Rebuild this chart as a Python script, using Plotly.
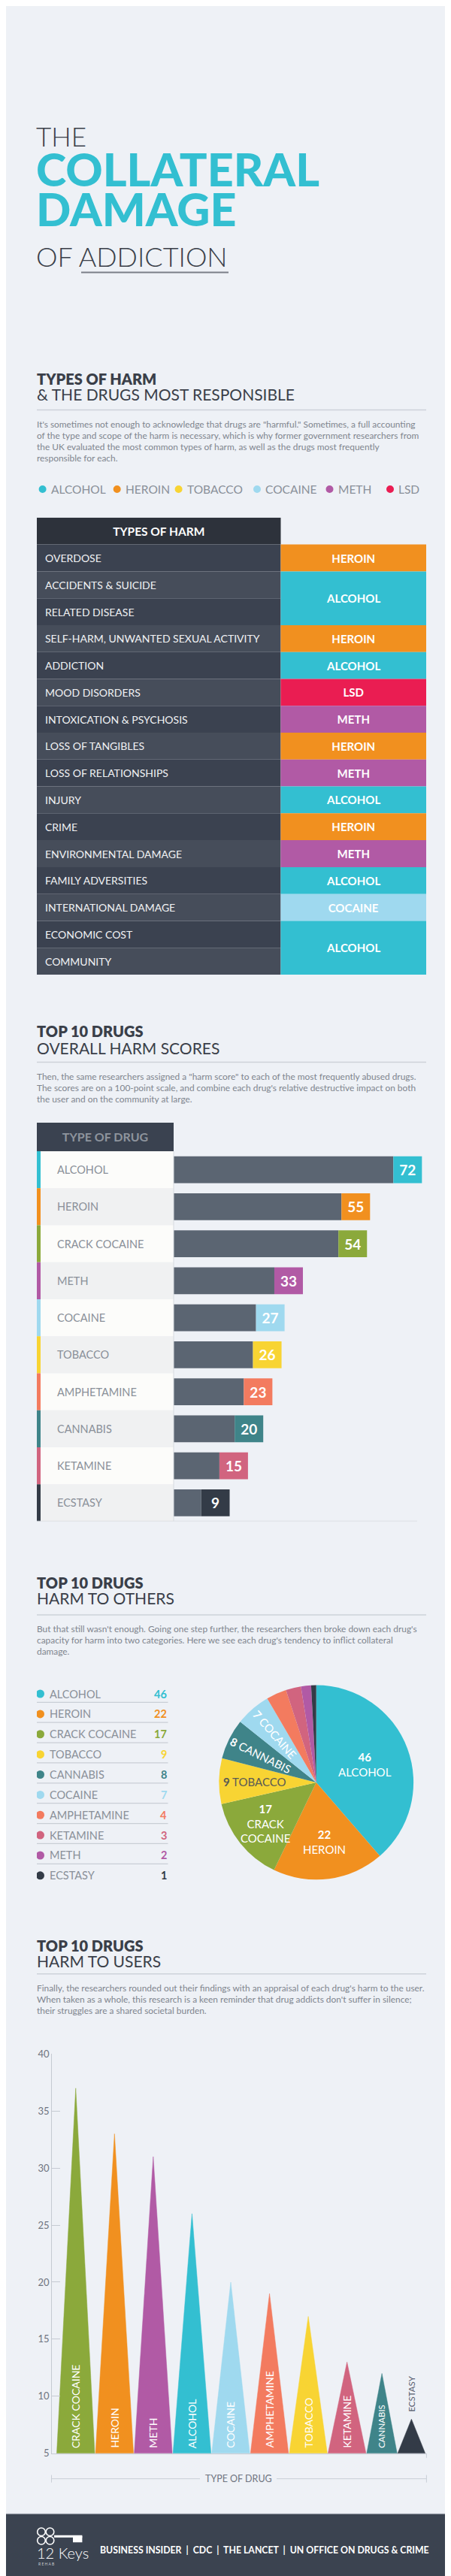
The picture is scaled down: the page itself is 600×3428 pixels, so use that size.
import math
import plotly.graph_objects as go

W, H = 600, 3428
BG = "#EEF1F6"
DARK = "#3A3F49"
TEAL = "#33BFD1"
PARA = "#7F858E"
LABEL = "#8A9099"
RULE = "#CDD2D9"
FONT = "Lato"

# ---------------- data ----------------
legend_drugs = ["ALCOHOL", "HEROIN", "TOBACCO", "COCAINE", "METH", "LSD"]

harm_types = ["OVERDOSE", "ACCIDENTS & SUICIDE", "RELATED DISEASE",
              "SELF-HARM, UNWANTED SEXUAL ACTIVITY", "ADDICTION", "MOOD DISORDERS",
              "INTOXICATION & PSYCHOSIS", "LOSS OF TANGIBLES", "LOSS OF RELATIONSHIPS",
              "INJURY", "CRIME", "ENVIRONMENTAL DAMAGE", "FAMILY ADVERSITIES",
              "INTERNATIONAL DAMAGE", "ECONOMIC COST", "COMMUNITY"]
most_responsible = ["HEROIN", "ALCOHOL", "ALCOHOL", "HEROIN", "ALCOHOL", "LSD", "METH",
                    "HEROIN", "METH", "ALCOHOL", "HEROIN", "METH", "ALCOHOL", "COCAINE",
                    "ALCOHOL", "ALCOHOL"]

overall_drugs = ["ALCOHOL", "HEROIN", "CRACK COCAINE", "METH", "COCAINE", "TOBACCO",
                 "AMPHETAMINE", "CANNABIS", "KETAMINE", "ECSTASY"]
overall_scores = [72, 55, 54, 33, 27, 26, 23, 20, 15, 9]

others_drugs = ["ALCOHOL", "HEROIN", "CRACK COCAINE", "TOBACCO", "CANNABIS", "COCAINE",
                "AMPHETAMINE", "KETAMINE", "METH", "ECSTASY"]
others_scores = [46, 22, 17, 9, 8, 7, 4, 3, 2, 1]

users_drugs = ["CRACK COCAINE", "HEROIN", "METH", "ALCOHOL", "COCAINE", "AMPHETAMINE",
               "TOBACCO", "KETAMINE", "CANNABIS", "ECSTASY"]
users_scores = [37, 33, 31, 26, 20, 19, 17, 13, 12, 8]
users_ticks = [5, 10, 15, 20, 25, 30, 35, 40]

sources = ["BUSINESS INSIDER", "CDC", "THE LANCET", "UN OFFICE ON DRUGS & CRIME"]

COLORS = {"ALCOHOL": "#33BFD1", "HEROIN": "#F1901F", "TOBACCO": "#F8D433",
          "COCAINE": "#9FD9EF", "METH": "#B15AA5", "LSD": "#EA1D52",
          "CRACK COCAINE": "#8BA93B", "AMPHETAMINE": "#F37B5F", "CANNABIS": "#3F8489",
          "KETAMINE": "#D1647F", "ECSTASY": "#333B47"}

# ---------------- helpers ----------------
def X(x): return x / W
def Y(y): return 1 - y / H

annotations, shapes, traces = [], [], []

def txt(x, y, s, size, color, weight=400, xanchor="left", yanchor="middle", **kw):
    d = dict(x=X(x), y=Y(y), xref="paper", yref="paper", text=s, showarrow=False,
             xanchor=xanchor, yanchor=yanchor,
             font=dict(family=FONT, size=size, color=color, weight=weight))
    d.update(kw)
    annotations.append(d)

def hline(x0, x1, y, color=RULE, width=1.5):
    shapes.append(dict(type="line", xref="paper", yref="paper", x0=X(x0), x1=X(x1),
                       y0=Y(y), y1=Y(y), line=dict(color=color, width=width)))

def vline(x, y0, y1, color=RULE, width=1):
    shapes.append(dict(type="line", xref="paper", yref="paper", x0=X(x), x1=X(x),
                       y0=Y(y0), y1=Y(y1), line=dict(color=color, width=width)))

def dot(x, y, r, color, fill=True, lw=0):
    shapes.append(dict(type="circle", xref="paper", yref="paper", x0=X(x - r), x1=X(x + r),
                       y0=Y(y + r), y1=Y(y - r),
                       fillcolor=color if fill else "rgba(0,0,0,0)",
                       line=dict(width=lw, color=color)))

def section(yb, yl, yline, bold, light, para, ypara):
    txt(39, yb, bold, 20, DARK, 800)
    txt(39, yl, light, 21, DARK, 400)
    hline(41, 559, yline)
    for i, line in enumerate(para):
        txt(39, ypara + 15 * i, line, 11.9, PARA, 400)

# ---------------- title (one text block) ----------------
def span(s, size, weight, color):
    return f'<span style="font-size:{size}px;font-weight:{weight};color:{color}">{s}</span>'

title_html = "<br>".join([span("THE", 35, 300, DARK),
                          span("COLLATERAL", 61, 900, TEAL),
                          span("DAMAGE", 61, 900, TEAL),
                          span("OF ADDICTION", 36, 300, DARK)])
txt(38, 246.6, title_html, 40.9, DARK, 400, align="left")
hline(100, 296, 348, color="#7A7F88", width=2)

# ---------------- types of harm ----------------
section(490.5, 511, 532, "TYPES OF HARM", "&amp; THE DRUGS MOST RESPONSIBLE",
        ["It's sometimes not enough to acknowledge that drugs are \"harmful.\" Sometimes, a full accounting",
         "of the type and scope of the harm is necessary, which is why former government researchers from",
         "the UK evaluated the most common types of harm, as well as the drugs most frequently",
         "responsible for each."], 551)

leg_dot_x = [48.6, 147.7, 229.6, 334, 430.5, 511]
for d, xd in zip(legend_drugs, leg_dot_x):
    dot(xd, 638, 5, COLORS[d])
    txt(xd + 9, 638, d, 15.5, LABEL, 400)

LEFT_W = (365.5 - 41) / (559 - 41)
n = len(harm_types)
traces.append(go.Bar(orientation="h", y=[-1], x=[LEFT_W], base=[0], width=[1],
                     marker=dict(color="#2D323B", line=dict(width=0)),
                     text=["<b>TYPES OF HARM</b>"], textposition="inside",
                     insidetextanchor="middle", textangle=0,
                     textfont=dict(family=FONT, size=15.5, color="white"),
                     xaxis="x", yaxis="y", hoverinfo="skip", showlegend=False))
traces.append(go.Bar(orientation="h", y=list(range(n)), x=[LEFT_W] * n, base=[0] * n,
                     width=[1] * n,
                     marker=dict(color=["#3B4250" if i % 2 == 0 else "#464D5A" for i in range(n)],
                                 line=dict(width=0)),
                     xaxis="x", yaxis="y", hoverinfo="skip", showlegend=False))
for i, t in enumerate(harm_types):
    annotations.append(dict(x=X(50), y=i, xref="paper", yref="y", text=t, showarrow=False,
                            xanchor="left", yanchor="middle",
                            font=dict(family=FONT, size=14, color="#F1F2F4")))
# merge consecutive rows with the same drug
groups, start = [], 0
for i in range(1, n + 1):
    if i == n or most_responsible[i] != most_responsible[start]:
        groups.append((start, i - start, most_responsible[start]))
        start = i
traces.append(go.Bar(orientation="h",
                     y=[s + (k - 1) / 2 for s, k, _ in groups],
                     x=[1 - LEFT_W] * len(groups), base=[LEFT_W] * len(groups),
                     width=[k for _, k, _ in groups],
                     marker=dict(color=[COLORS[d] for _, _, d in groups], line=dict(width=0)),
                     text=[f"<b>{d}</b>" for _, _, d in groups], textposition="inside",
                     insidetextanchor="middle", textangle=0,
                     textfont=dict(family=FONT, size=15, color="white"),
                     xaxis="x", yaxis="y", hoverinfo="skip", showlegend=False))

# ---------------- overall harm ----------------
section(1362, 1384.5, 1404, "TOP 10 DRUGS", "OVERALL HARM SCORES",
        ["Then, the same researchers assigned a \"harm score\" to each of the most frequently abused drugs.",
         "The scores are on a 100-point scale, and combine each drug's relative destructive impact on both",
         "the user and on the community at large."], 1423)

PXU = 4.06
XL = -(223 - 41) / PXU
XR = (559 - 223) / PXU
BOX = 38 / PXU
m = len(overall_drugs)
traces.append(go.Bar(orientation="h", y=[-0.5 - 0.768 / 2], x=[-XL], base=[XL], width=[0.768],
                     marker=dict(color="#3A4250", line=dict(width=0)),
                     text=["<b>TYPE OF DRUG</b>"], textposition="inside",
                     insidetextanchor="middle", textangle=0,
                     textfont=dict(family=FONT, size=16, color="#8E949D"),
                     xaxis="x2", yaxis="y2", hoverinfo="skip", showlegend=False))
traces.append(go.Bar(orientation="h", y=list(range(m)), x=[-XL] * m, base=[XL] * m, width=[1] * m,
                     marker=dict(color=["#FCFCFA" if i % 2 == 0 else "#F0F1F2" for i in range(m)],
                                 line=dict(width=0)),
                     xaxis="x2", yaxis="y2", hoverinfo="skip", showlegend=False))
traces.append(go.Bar(orientation="h", y=list(range(m)), x=[5 / PXU] * m, base=[XL] * m, width=[1] * m,
                     marker=dict(color=[COLORS[d] for d in overall_drugs], line=dict(width=0)),
                     xaxis="x2", yaxis="y2", hoverinfo="skip", showlegend=False))
traces.append(go.Bar(orientation="h", y=list(range(m)), x=overall_scores, base=[0] * m,
                     width=[0.727] * m, marker=dict(color="#5B6572", line=dict(width=0)),
                     xaxis="x2", yaxis="y2", hoverinfo="skip", showlegend=False))
traces.append(go.Bar(orientation="h", y=list(range(m)), x=[BOX] * m, base=overall_scores,
                     width=[0.727] * m,
                     marker=dict(color=[COLORS[d] for d in overall_drugs], line=dict(width=0)),
                     text=[f"<b>{v}</b>" for v in overall_scores], textposition="inside",
                     insidetextanchor="middle", textangle=0,
                     textfont=dict(family=FONT, size=19, color="white"),
                     xaxis="x2", yaxis="y2", hoverinfo="skip", showlegend=False))
for i, d in enumerate(overall_drugs):
    annotations.append(dict(x=X(66), y=i, xref="paper", yref="y2", text=d, showarrow=False,
                            xanchor="left", yanchor="middle",
                            font=dict(family=FONT, size=14.5, color=LABEL)))
shapes.append(dict(type="line", xref="x2", yref="y2", x0=0, x1=0, y0=-0.5, y1=9.5,
                   line=dict(color="#D7DBE0", width=1)))
shapes.append(dict(type="line", xref="x2", yref="y2", x0=XL, x1=(547 - 223) / PXU, y0=9.5, y1=9.5,
                   line=dict(color="#D7DBE0", width=1.5)))

# ---------------- harm to others ----------------
section(2100, 2120.5, 2143, "TOP 10 DRUGS", "HARM TO OTHERS",
        ["But that still wasn't enough. Going one step further, the researchers then broke down each drug's",
         "capacity for harm into two categories. Here we see each drug's tendency to inflict collateral",
         "damage."], 2162)

k = len(others_drugs)
traces.append(go.Scatter(x=[45.5] * k, y=list(range(k)), mode="markers",
                         marker=dict(size=11, color=[COLORS[d] for d in others_drugs]),
                         xaxis="x3", yaxis="y3", hoverinfo="skip", showlegend=False))
for i, (d, v) in enumerate(zip(others_drugs, others_scores)):
    annotations.append(dict(x=X(56), y=i, xref="paper", yref="y3", text=d, showarrow=False,
                            xanchor="left", yanchor="middle",
                            font=dict(family=FONT, size=14.5, color=LABEL)))
    annotations.append(dict(x=X(216), y=i, xref="paper", yref="y3", text=f"<b>{v}</b>",
                            showarrow=False, xanchor="right", yanchor="middle",
                            font=dict(family=FONT, size=14.5, color=COLORS[d])))
    if i < k - 1:
        shapes.append(dict(type="line", xref="paper", yref="y3", x0=X(41), x1=X(215.5),
                           y0=i + 0.42, y1=i + 0.42, line=dict(color="#C9CED5", width=1.2)))

PCX, PCY, PR = 412.7, 2367, 130
traces.append(go.Pie(values=others_scores, labels=others_drugs, sort=False,
                     direction="clockwise", rotation=0, textinfo="none", hoverinfo="skip",
                     marker=dict(colors=[COLORS[d] for d in others_drugs], line=dict(width=0)),
                     domain=dict(x=[X(PCX - PR), X(PCX + PR)], y=[Y(PCY + PR), Y(PCY - PR)]),
                     showlegend=False))
pie_label_r = [0.53, 0.62, 0.67, 0.63, 0.63, 0.65]
pie_labels = ["<b>{v}</b><br>ALCOHOL", "<b>{v}</b><br>HEROIN", "<b>{v}</b><br>CRACK<br>COCAINE",
              "<b>{v}</b> TOBACCO", "<b>{v}</b> CANNABIS", "<b>{v}</b> COCAINE"]
total = sum(others_scores)
cum = 0
for i, v in enumerate(others_scores):
    mid = (cum + v / 2) / total * 2 * math.pi
    cum += v
    if i >= len(pie_labels):
        continue
    rr = pie_label_r[i] * PR
    lx = PCX + rr * math.sin(mid)
    ly = PCY - rr * math.cos(mid)
    ang = 0
    if i >= 4:
        ang = math.degrees(math.atan2(math.cos(mid), -math.sin(mid)))
    color = "#5A5A55" if others_drugs[i] == "TOBACCO" else "white"
    txt(lx, ly, pie_labels[i].format(v=v), 15, color, 400, xanchor="center",
        textangle=ang)

# ---------------- harm to users ----------------
section(2585, 2605.5, 2623, "TOP 10 DRUGS", "HARM TO USERS",
        ["Finally, the researchers rounded out their findings with an appraisal of each drug's harm to the user.",
         "When taken as a whole, this research is a keen reminder that drug addicts don't suffer in silence;",
         "their struggles are a shared societal burden."], 2642)

UX0, UX1, UY0, UY1 = 61.2, 559.4, 2730, 3264
UNIT = 51.56
slot_w = [1, 1, 1, 1, 1, 1, 1, 1, 0.8, 0.725]
label_size = [14, 14, 14, 14, 14, 14, 14, 14, 11.5, 11.5]
xpos = 0.112
for i, (d, v) in enumerate(zip(users_drugs, users_scores)):
    w = slot_w[i]
    c = xpos + w / 2
    hw = w / 2 * 0.98
    xpos += w
    traces.append(go.Scatter(x=[c - hw, c, c + hw, c - hw], y=[5, v, 5, 5], fill="toself",
                             mode="lines", line=dict(width=0.5, color=COLORS[d]),
                             fillcolor=COLORS[d], xaxis="x4", yaxis="y4",
                             hoverinfo="skip", showlegend=False))
    if d == "ECSTASY":
        annotations.append(dict(x=c, y=v, xref="x4", yref="y4", text=d, showarrow=False,
                                textangle=-90, xanchor="center", yanchor="bottom", yshift=8,
                                font=dict(family=FONT, size=label_size[i], color="#5A6070")))
    else:
        annotations.append(dict(x=c, y=5, xref="x4", yref="y4", text=d, showarrow=False,
                                textangle=-90, xanchor="center", yanchor="bottom", yshift=5,
                                font=dict(family=FONT, size=label_size[i], color="white")))

txt(309, 3298, "TYPE OF DRUG", 12.5, "#6E7480", 400, xanchor="center")
hline(60.5, 258, 3298, color="#C9CED6", width=1)
hline(360, 559.4, 3298, color="#C9CED6", width=1)
vline(60.5, 3293, 3303, color="#C9CED6")
vline(559.4, 3293, 3303, color="#C9CED6")
vline(559.4, 3264, 3270, color="#C9CED6")

# ---------------- footer ----------------
shapes.append(dict(type="rect", xref="paper", yref="paper", x0=0, x1=1, y0=0, y1=Y(3345),
                   fillcolor="#3B4350", line=dict(width=0), layer="below"))
hline(0, 600, 3345, color="#8C929C", width=1)
for cx_, cy_ in [(47, 3369), (58.5, 3369), (47, 3380.5), (58.5, 3380.5)]:
    dot(cx_, cy_, 5.3, "white", fill=False, lw=1.6)
shapes.append(dict(type="rect", xref="paper", yref="paper", x0=X(64), x1=X(101.4),
                   y0=Y(3376.5), y1=Y(3373.5), fillcolor="white", line=dict(width=0)))
shapes.append(dict(type="rect", xref="paper", yref="paper", x0=X(89), x1=X(101.4),
                   y0=Y(3383), y1=Y(3375), fillcolor="white", line=dict(width=0)))
txt(39, 3397, "12 Keys", 20, "white", 300)
txt(41, 3412, "R E H A B", 5, "#C8CCD2", 400)
txt(123, 3393, "  |  ".join(sources), 12.3, "white", 700)

# ---------------- layout ----------------
def hidden(**kw):
    d = dict(visible=False, fixedrange=True)
    d.update(kw)
    return d

fig = go.Figure(data=traces)
fig.update_layout(
    width=W, height=H, autosize=False,
    margin=dict(l=0, r=0, t=0, b=0),
    paper_bgcolor=BG, plot_bgcolor="rgba(0,0,0,0)",
    barmode="overlay", showlegend=False,
    font=dict(family=FONT),
    xaxis=hidden(domain=[X(41), X(559)], range=[0, 1]),
    yaxis=hidden(domain=[Y(1287), Y(676)], range=[n - 0.5, -1.5]),
    xaxis2=hidden(domain=[X(41), X(559)], range=[XL, XR], anchor="y2"),
    yaxis2=hidden(domain=[Y(2018), Y(1485)], range=[m - 0.5, -0.5 - 0.768], anchor="x2"),
    xaxis3=hidden(domain=[X(41), X(216)], range=[41, 216], anchor="y3"),
    yaxis3=hidden(domain=[Y(2235 + 27 * k), Y(2235)], range=[k - 0.5, -0.5], anchor="x3"),
    xaxis4=dict(domain=[X(UX0), X(UX1)], range=[0, (UX1 - UX0) / UNIT], anchor="y4",
                showline=True, linecolor="#C5CAD2", linewidth=1, showticklabels=False,
                ticks="", showgrid=False, zeroline=False, fixedrange=True),
    yaxis4=dict(domain=[Y(UY1), Y(UY0)], range=[5, 40], anchor="x4",
                showline=True, linecolor="#C5CAD2", linewidth=1, tickvals=users_ticks,
                ticks="inside", ticklen=11, tickcolor="#C5CAD2",
                tickfont=dict(family=FONT, size=13, color="#6E7480"),
                showgrid=False, zeroline=False, fixedrange=True),
    annotations=annotations, shapes=shapes,
)
fig.write_html("out.html", config={"displayModeBar": False})
